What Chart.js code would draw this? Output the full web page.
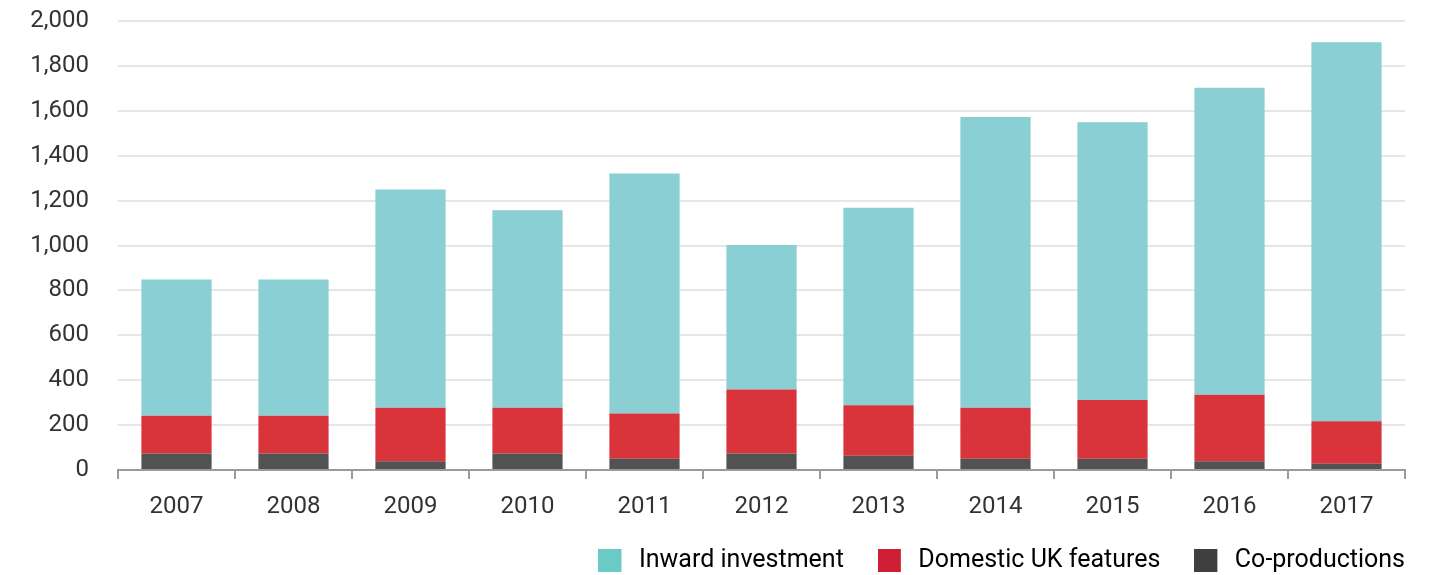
<!DOCTYPE html>
<html>
<head>
<meta charset="utf-8">
<script src="https://cdn.jsdelivr.net/npm/chart.js@4.4.1/dist/chart.umd.min.js"></script>
<style>
  html, body { margin: 0; padding: 0; background: #ffffff; }
  #wrap { width: 1430px; height: 575px; position: relative; }
</style>
</head>
<body>
<div id="wrap"><canvas id="c" width="1430" height="575"></canvas></div>
<script>
const years = ['2007','2008','2009','2010','2011','2012','2013','2014','2015','2016','2017'];
const coProductions = [74, 74, 39, 74, 50, 74, 64, 50, 50, 39, 28];
const domesticUK = [168, 168, 238, 203, 202, 285, 224, 227, 262, 296, 189];
const inwardInvestment = [606, 606, 973, 880, 1069, 643, 880, 1295, 1237, 1368, 1688];
const seriesNames = ['Inward investment', 'Domestic UK features', 'Co-productions'];
const yTicks = [0, 200, 400, 600, 800, 1000, 1200, 1400, 1600, 1800, 2000];

const barColors = ['#89CFD3', '#D9333B', '#525252'];
const legendColors = ['#6BC9C6', '#CF1F34', '#3F3F3F'];

Chart.defaults.font.family = 'Roboto, "Liberation Sans", sans-serif';
Chart.defaults.font.size = 24;
Chart.defaults.color = '#333333';

// legend swatch: square on the left of a slightly wider transparent tile
function swatch(color) {
  const c = document.createElement('canvas');
  c.width = 28; c.height = 23;
  const g = c.getContext('2d');
  g.fillStyle = color;
  g.fillRect(0, 0, 23, 23);
  return c;
}

const legendFix = {
  id: 'legendFix',
  beforeLayout(chart) {
    const lg = chart.legend;
    if (lg && !lg._patched) {
      const orig = lg.fit.bind(lg);
      lg.fit = function () { orig(); this.height = 61; };
      lg._patched = true;
    }
  },
  afterLayout(chart) {
    const lg = chart.legend;
    if (lg) { lg.right += 34; lg.left += 34; }
  }
};

new Chart(document.getElementById('c'), {
  type: 'bar',
  data: {
    labels: years,
    datasets: [
      { label: seriesNames[2], data: coProductions, backgroundColor: barColors[2] },
      { label: seriesNames[1], data: domesticUK, backgroundColor: barColors[1] },
      { label: seriesNames[0], data: inwardInvestment, backgroundColor: barColors[0] }
    ]
  },
  plugins: [legendFix],
  options: {
    responsive: false,
    animation: false,
    layout: { padding: { top: 21, right: 25, left: 0, bottom: 0 } },
    datasets: { bar: { categoryPercentage: 1.0, barPercentage: 0.6, borderWidth: 0 } },
    scales: {
      x: {
        stacked: true,
        grid: { drawOnChartArea: false, drawTicks: true, tickLength: 9, color: '#9a9a9a', lineWidth: 2, offset: true },
        border: { display: true, color: '#9a9a9a', width: 2 },
        ticks: { padding: 14, color: '#333333' },
        afterFit: (s) => { s.height = 44; }
      },
      y: {
        stacked: true,
        min: 0, max: 2000,
        afterBuildTicks: (s) => { s.ticks = yTicks.map(v => ({ value: v })); },
        afterFit: (s) => { s.width = 118; s.paddingTop = 0; s.paddingBottom = 0; },
        grid: { drawTicks: false, color: '#e6e6e6', lineWidth: 2 },
        border: { display: false },
        ticks: { padding: 29, color: '#333333', callback: (v) => v.toLocaleString('en-US') }
      }
    },
    plugins: {
      tooltip: { enabled: false },
      legend: {
        position: 'bottom',
        align: 'end',
        labels: {
          usePointStyle: true, pointStyleWidth: 28, boxHeight: 23,
          padding: 34, color: '#3a3a3a',
          font: { size: 25 },
          generateLabels: (chart) => [0, 1, 2].map(i => ({
            text: seriesNames[i],
            fillStyle: legendColors[i],
            strokeStyle: legendColors[i],
            pointStyle: swatch(legendColors[i]),
            lineWidth: 0,
            hidden: false,
            datasetIndex: 2 - i
          }))
        }
      }
    }
  }
});
</script>
</body>
</html>
